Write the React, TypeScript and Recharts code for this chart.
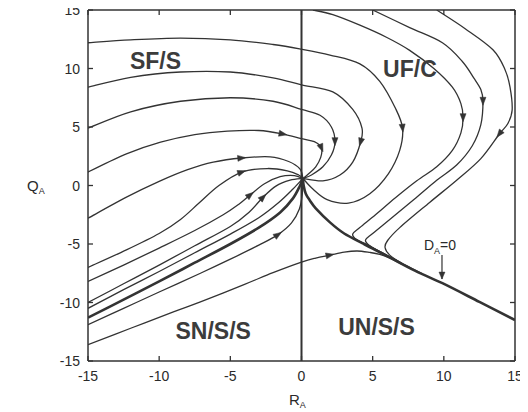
import React from 'react';
import { LineChart, Line, XAxis, YAxis, ReferenceLine, ReferenceDot } from 'recharts';

type P = [number, number];

const xTicks = [-15, -10, -5, 0, 5, 10, 15];
const yTicks = [-15, -10, -5, 0, 5, 10, 15];

// Trajectories (R_A, Q_A)
const orbitA: P[] = [[-15, 12.2], [-12, 12.45], [-8.5, 12.6], [-5, 12.45], [-2, 12.05], [0, 11.65], [2, 11.15], [4.1, 10.4], [5.5, 8.9], [6.6, 6.6], [7.1, 4.9], [6.9, 3.0], [6.1, 1.0], [4.8, -0.7], [3.3, -1.5], [1.8, -1.2], [0.8, -0.3], [0.1, 0.6]];
const orbitB: P[] = [[-15, 8.4], [-12, 9.25], [-8.5, 9.7], [-5, 9.7], [-2, 9.2], [0, 8.6], [2.2, 8.0], [3.6, 6.5], [4.25, 4.9], [4.15, 3.7], [3.6, 2.0], [2.7, 0.9], [1.5, 0.4], [0.1, 0.6]];
const orbitC: P[] = [[-15, 4.9], [-12, 6.3], [-8.5, 7.2], [-5, 7.5], [-2, 7.2], [0, 6.5], [1.3, 6.0], [2.1, 5.0], [2.35, 3.75], [2.1, 2.6], [1.5, 1.6], [0.7, 0.9], [0.1, 0.6]];
const orbitD: P[] = [[-15, 1.15], [-12.3, 2.7], [-9.9, 3.7], [-7.5, 4.35], [-5.2, 4.65], [-3, 4.7], [-1.3, 4.4], [0, 4.0], [0.9, 3.75], [1.4, 3.2], [1.35, 2.4], [1.0, 1.6], [0.5, 1.0], [0.1, 0.6]];
const orbitE: P[] = [[-15, -2.8], [-12.3, -1.0], [-10, 0.35], [-8, 1.35], [-6.2, 2.0], [-4.2, 2.35], [-2.2, 2.45], [-0.9, 2.05], [-0.1, 1.4], [0.1, 0.6]];
const orbitF: P[] = [[-15, -7.0], [-12.3, -5.5], [-10, -4.1], [-8.5, -2.9], [-7.2, -1.5], [-5.8, 0.0], [-4.2, 1.15], [-2.4, 1.45], [-1.0, 1.25], [-0.2, 0.9], [0.1, 0.6]];
const orbitG: P[] = [[-15, -8.2], [-12.5, -6.8], [-10, -5.35], [-7.5, -3.85], [-5.5, -2.5], [-4.4, -1.6], [-3.6, -0.8], [-2.6, 0.15], [-1.5, 0.75], [-0.5, 0.85], [0.1, 0.6]];
const orbitH: P[] = [[-15, -10.0], [-12.5, -8.4], [-10, -6.8], [-7.5, -5.15], [-5, -3.5], [-3.7, -2.3], [-2.7, -1.0], [-1.8, -0.05], [-0.8, 0.45], [0.1, 0.6]];
const orbitI: P[] = [[-15, -10.5], [-12.5, -8.9], [-10, -7.35], [-7.5, -5.75], [-5, -4.15], [-3, -2.75], [-1.6, -1.45], [-0.6, -0.3], [0.1, 0.6]];
const orbitJ: P[] = [[-15, -11.9], [-12.5, -10.5], [-10, -9.1], [-7.1, -7.5], [-5, -6.3], [-3, -5.1], [-1.65, -4.2], [-0.7, -3.2], [-0.15, -2.0], [0.05, -0.8], [0.1, 0.6]];
const orbitK: P[] = [[-15, -13.6], [-12, -12.2], [-9, -10.8], [-7.1, -9.95], [-4, -8.45], [-2, -7.45], [0, -6.55], [1, -6.2], [2, -5.95], [3, -5.7], [3.9, -5.6], [4.8, -5.72], [5.5, -5.88], [6.2, -6.2], [7, -6.7]];
const orbitR5: P[] = [[0.8, 15], [2.2, 14.6], [4.1, 13.7], [6, 12.65], [7.6, 11.55], [9.3, 10.0], [10.6, 8.4], [11.2, 7.0], [11.35, 5.8], [11.2, 4.5], [10.6, 3.0], [9.5, 1.6], [8.1, 0.4], [6.6, -1.05], [5.2, -2.5], [4.1, -3.6], [3.6, -4.15], [3.85, -4.6], [4.6, -5.05], [5.6, -5.72], [7, -6.62]];
const orbitR6: P[] = [[5.0, 15], [7.6, 13.5], [9.9, 12.2], [11.3, 10.6], [12.1, 9.2], [12.6, 8.2], [12.75, 7.2], [12.6, 5.2], [12.0, 3.4], [10.9, 1.75], [9.5, 0.45], [7.9, -1.2], [6.2, -2.9], [5.0, -4.1], [4.5, -4.65], [4.75, -5.1], [5.6, -5.7], [7, -6.62]];
const orbitR7: P[] = [[9.5, 15], [11.5, 13.4], [13.45, 11.6], [14.3, 9.9], [14.65, 8.4], [14.8, 6.45], [14.5, 5.3], [13.9, 4.4], [12.6, 2.3], [10.9, 0.45], [9.0, -1.45], [6.9, -3.6], [6.05, -4.7], [5.87, -5.3], [6.2, -5.95], [7.0, -6.6], [8.5, -7.55]];

// D_A = 0 curve (two branches meeting at the cusp)
const daLeft: P[] = [[-15, -11.3], [-12.5, -9.75], [-10, -8.2], [-7.5, -6.6], [-5, -5.0], [-3, -3.6], [-1.5, -2.3], [-0.6, -1.1], [-0.1, 0.0], [0.1, 0.6]];
const daRight: P[] = [[0.1, 0.6], [0.15, 0.0], [0.3, -0.7], [0.6, -1.3], [1.0, -1.95], [2.0, -3.15], [3.0, -4.1], [4.3, -4.95], [5.0, -5.4], [6.2, -6.15], [8.0, -7.3], [9.9, -8.35], [12.5, -9.95], [15, -11.5]];
const daPointer: P[] = [[9.87, -5.95], [9.87, -8.0]];

// arrow positions (indices into each trajectory)
const orbits: { pts: P[]; arrows: number[] }[] = [
  { pts: orbitA, arrows: [10] },
  { pts: orbitB, arrows: [9] },
  { pts: orbitC, arrows: [8] },
  { pts: orbitD, arrows: [6, 9] },
  { pts: orbitE, arrows: [5] },
  { pts: orbitF, arrows: [6] },
  { pts: orbitG, arrows: [6] },
  { pts: orbitH, arrows: [6] },
  { pts: orbitI, arrows: [] },
  { pts: orbitJ, arrows: [6] },
  { pts: orbitK, arrows: [8] },
  { pts: orbitR5, arrows: [8] },
  { pts: orbitR6, arrows: [6] },
  { pts: orbitR7, arrows: [7] },
];

const regionLabels = [
  { text: 'SF/S', x: -10.26, y: 10.64 },
  { text: 'UF/C', x: 7.62, y: 10.0 },
  { text: 'SN/S/S', x: -6.2, y: -12.4 },
  { text: 'UN/S/S', x: 5.27, y: -12.05 },
];

const W = 528;
const H = 412;
const M = { top: 9, right: 12, bottom: 0, left: 0 };
const Y_AXIS_W = 88;
const X_AXIS_H = 51;
const PLOT_W = W - M.left - M.right - Y_AXIS_W - 1;
const PLOT_H = H - M.top - M.bottom - X_AXIS_H - 1;
const PX_X = PLOT_W / 30;
const PX_Y = PLOT_H / 30;

const INK = '#333';
const FONT = '"Liberation Sans", Arial, Helvetica, sans-serif';

function catmullRom(context: any) {
  let pts: number[][] = [];
  return {
    areaStart() {},
    areaEnd() {},
    lineStart() { pts = []; },
    point(x: number, y: number) { pts.push([+x, +y]); },
    lineEnd() {
      const n = pts.length;
      if (!n) return;
      context.moveTo(pts[0][0], pts[0][1]);
      for (let i = 0; i < n - 1; i++) {
        const p0 = pts[i > 0 ? i - 1 : 0];
        const p1 = pts[i];
        const p2 = pts[i + 1];
        const p3 = pts[i + 2 < n ? i + 2 : n - 1];
        context.bezierCurveTo(
          p1[0] + (p2[0] - p0[0]) / 6, p1[1] + (p2[1] - p0[1]) / 6,
          p2[0] - (p3[0] - p1[0]) / 6, p2[1] - (p3[1] - p1[1]) / 6,
          p2[0], p2[1]
        );
      }
    },
  };
}

const toData = (pts: P[], arrows: number[]) => pts.map(([x, y], i) => ({ x, y, arrow: arrows.includes(i) }));

const makeArrowDot = (pts: P[], tipAhead = false) => (props: any) => {
  const { cx, cy, index, payload } = props;
  if (!payload || !payload.arrow || cx == null || cy == null) return <g key={`n${index}`} />;
  const prev = pts[Math.max(0, index - 1)];
  const next = pts[Math.min(pts.length - 1, index + 1)];
  const dx = (next[0] - prev[0]) * PX_X;
  const dy = -(next[1] - prev[1]) * PX_Y;
  const ang = (Math.atan2(dy, dx) * 180) / Math.PI;
  const d = tipAhead ? 'M0,0 L-7,-3 L-7,3 Z' : 'M4,0 L-4,-3 L-4,3 Z';
  return <path key={`a${index}`} d={d} transform={`translate(${cx},${cy}) rotate(${ang})`} fill={INK} stroke={INK} strokeWidth={0.5} />;
};

const BottomTick = (props: any) => {
  const { x, y, payload } = props;
  return (
    <g>
      <line x1={x} y1={y} x2={x} y2={y - 5} stroke={INK} strokeWidth={1.3} />
      <text x={x} y={y + 20} textAnchor="middle" fontSize={14} fill="#2a2a2a" fontFamily={FONT}>{payload.value}</text>
    </g>
  );
};
const TopTick = (props: any) => {
  const { x, y } = props;
  return <line x1={x} y1={y} x2={x} y2={y + 5} stroke={INK} strokeWidth={1.3} />;
};
const LeftTick = (props: any) => {
  const { x, y, payload } = props;
  return (
    <g>
      <line x1={x} y1={y} x2={x + 5} y2={y} stroke={INK} strokeWidth={1.3} />
      <text x={x - 8} y={y + 5} textAnchor="end" fontSize={14} fill="#2a2a2a" fontFamily={FONT}>{payload.value}</text>
    </g>
  );
};
const RightTick = (props: any) => {
  const { x, y } = props;
  return <line x1={x} y1={y} x2={x - 5} y2={y} stroke={INK} strokeWidth={1.3} />;
};

const regionLabel = (text: string) => (p: any) => {
  const vb = p.viewBox || {};
  const cx = (vb.x || 0) + (vb.width || 0) / 2;
  const cy = (vb.y || 0) + (vb.height || 0) / 2;
  return (
    <text x={cx} y={cy + 8.3} textAnchor="middle" fontSize={23} fontWeight="bold" fill="#3c3c3c" fontFamily={FONT}>{text}</text>
  );
};

const daLabel = (p: any) => {
  const vb = p.viewBox || {};
  const cx = (vb.x || 0) + (vb.width || 0) / 2;
  const cy = (vb.y || 0) + (vb.height || 0) / 2;
  return (
    <text x={cx} y={cy + 5} textAnchor="middle" fontSize={14} fill="#2a2a2a" fontFamily={FONT}>
      D<tspan fontSize={9} dy={4}>A</tspan><tspan dy={-4}>=0</tspan>
    </text>
  );
};

const xTitle = (p: any) => {
  const vb = p.viewBox || {};
  return (
    <text x={vb.x + vb.width / 2 - 12.5} y={vb.y + 44} fontSize={15} fill="#2a2a2a" fontFamily={FONT}>
      R<tspan fontSize={9} dy={3}>A</tspan>
    </text>
  );
};
const yTitle = (p: any) => {
  const vb = p.viewBox || {};
  return (
    <text x={vb.x + 27} y={vb.y + vb.height / 2 + 5.5} fontSize={15} fill="#2a2a2a" fontFamily={FONT}>
      Q<tspan fontSize={9} dy={3}>A</tspan>
    </text>
  );
};

export default function App() {
  return (
    <div style={{ width: W, height: H, margin: '-8px 0 0 -8px', fontFamily: FONT, background: '#fff' }}>
      <LineChart width={W} height={H} margin={M}>
        <XAxis dataKey="x" type="number" domain={[-15, 15]} ticks={xTicks} allowDataOverflow height={X_AXIS_H}
          tickSize={0} tickMargin={0} tickLine={false} tick={<BottomTick />} interval={0}
          axisLine={{ stroke: INK, strokeWidth: 1.5 }} label={{ content: xTitle }} />
        <XAxis xAxisId="top" orientation="top" dataKey="x" type="number" domain={[-15, 15]} ticks={xTicks} allowDataOverflow height={1}
          tickSize={0} tickMargin={0} tickLine={false} tick={<TopTick />} interval={0}
          axisLine={{ stroke: INK, strokeWidth: 1.5 }} />
        <YAxis dataKey="y" type="number" domain={[-15, 15]} ticks={yTicks} allowDataOverflow width={Y_AXIS_W}
          tickSize={0} tickMargin={0} tickLine={false} tick={<LeftTick />} interval={0}
          axisLine={{ stroke: INK, strokeWidth: 1.5 }} label={{ content: yTitle }} />
        <YAxis yAxisId="right" orientation="right" dataKey="y" type="number" domain={[-15, 15]} ticks={yTicks} allowDataOverflow width={1}
          tickSize={0} tickMargin={0} tickLine={false} tick={<RightTick />} interval={0}
          axisLine={{ stroke: INK, strokeWidth: 1.5 }} />

        <ReferenceLine x={0} stroke={INK} strokeWidth={2} />

        {orbits.map((o, i) => (
          <Line key={`o${i}`} data={toData(o.pts, o.arrows)} dataKey="y" type={catmullRom as any}
            stroke={INK} strokeWidth={1.3} dot={makeArrowDot(o.pts)} activeDot={false}
            isAnimationActive={false} />
        ))}

        <Line data={toData(daLeft, [])} dataKey="y" type={catmullRom as any} stroke={INK} strokeWidth={2.6}
          dot={false} activeDot={false} isAnimationActive={false} />
        <Line data={toData(daRight, [])} dataKey="y" type={catmullRom as any} stroke={INK} strokeWidth={2.6}
          dot={false} activeDot={false} isAnimationActive={false} />
        <Line data={toData(daPointer, [1])} dataKey="y" type="linear" stroke={INK} strokeWidth={1.2}
          dot={makeArrowDot(daPointer, true)} activeDot={false} isAnimationActive={false} />

        {regionLabels.map((l) => (
          <ReferenceDot key={l.text} x={l.x} y={l.y} r={1} fill="none" stroke="none" label={{ content: regionLabel(l.text) }} />
        ))}
        <ReferenceDot x={9.73} y={-5.1} r={1} fill="none" stroke="none" label={{ content: daLabel }} />
      </LineChart>
    </div>
  );
}
